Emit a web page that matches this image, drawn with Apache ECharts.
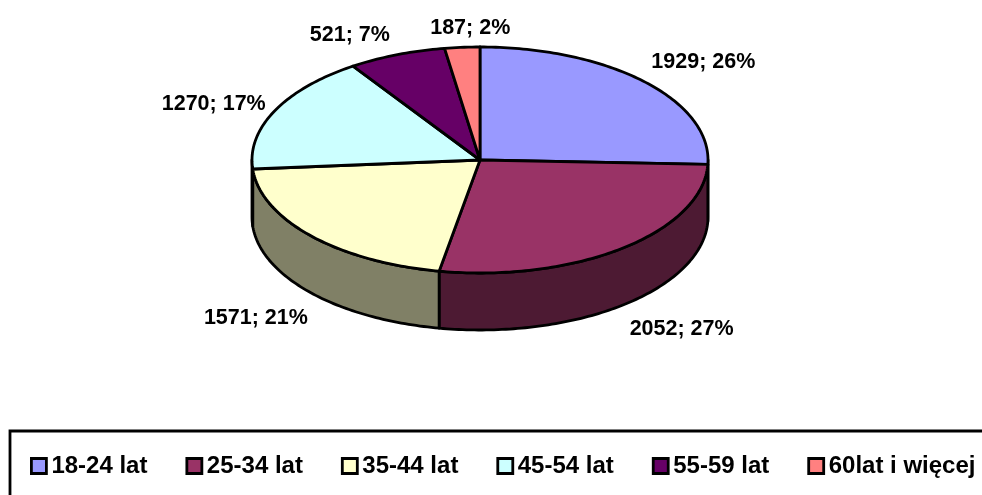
<!doctype html>
<html>

<head>
	<meta charset="UTF-8">
	<title>Wiek</title>
	<style>
		html, body { margin: 0; padding: 0; background: #fff; }
		#chart { width: 982px; height: 495px; }
	</style>
</head>

<body>
	<div id="chart"></div>

	<script src="https://cdn.jsdelivr.net/npm/echarts@6/dist/echarts.min.js"></script>
	<script>
		var categories = ['18-24 lat', '25-34 lat', '35-44 lat', '45-54 lat', '55-59 lat', '60lat i więcej'];
		var values = [1929, 2052, 1571, 1270, 521, 187];
		var percents = [26, 27, 21, 17, 7, 2];
		var topColors = ['#9999FF', '#993366', '#FFFFCC', '#CCFFFF', '#660066', '#FF8080'];
		var sideColors = ['#4D4D80', '#4D1A33', '#808066', '#668080', '#330033', '#804040'];

		// pie geometry (ellipse because of the tilt)
		var cx = 480, cy = 160, rx = 228, ry = 113, depth = 57;
		// label centre, relative to the rim point at the middle of the slice
		var labelOffsets = [[59, -20], [59, 81], [-55, 82], [-61, -7], [-47, -20], [8, -19]];

		var total = values.reduce(function (a, b) { return a + b; }, 0);

		function rim(deg, dy) {
			var a = deg * Math.PI / 180;
			return [cx + rx * Math.sin(a), cy - ry * Math.cos(a) + (dy || 0)];
		}

		function arcPoints(from, to, dy) {
			var pts = [];
			var n = Math.max(2, Math.ceil(Math.abs(to - from)));
			for (var i = 0; i <= n; i++) {
				pts.push(rim(from + (to - from) * i / n, dy));
			}
			return pts;
		}

		function startAngle(idx) {
			var sum = 0;
			for (var i = 0; i < idx; i++) sum += values[i];
			return sum / total * 360;
		}

		function sliceItem(idx) {
			return function () {
				var from = startAngle(idx);
				var to = from + values[idx] / total * 360;
				var mid = (from + to) / 2;
				var lineStyle = { stroke: '#000', lineWidth: 2.8, lineJoin: 'round' };
				var children = [];

				// front wall, only the part between 90 and 270 deg shows
				var wFrom = Math.max(from, 90), wTo = Math.min(to, 270);
				if (wFrom < wTo) {
					var top = arcPoints(wFrom, wTo, 0);
					var bottom = arcPoints(wFrom, wTo, depth).reverse();
					children.push({
						type: 'polygon',
						z2: 1,
						shape: { points: top.concat(bottom) },
						style: Object.assign({ fill: sideColors[idx] }, lineStyle)
					});
				}

				children.push({
					type: 'polygon',
					z2: 2,
					shape: { points: [[cx, cy]].concat(arcPoints(from, to, 0)) },
					style: Object.assign({ fill: topColors[idx] }, lineStyle)
				});

				var p = rim(mid, 0);
				children.push({
					type: 'text',
					z2: 3,
					style: {
						x: p[0] + labelOffsets[idx][0],
						y: p[1] + labelOffsets[idx][1],
						text: values[idx] + '; ' + percents[idx] + '%',
						fill: '#000',
						font: 'bold 21.5px "Liberation Sans", Arial, sans-serif',
						align: 'center',
						verticalAlign: 'middle'
					}
				});
				return { type: 'group', children: children };
			};
		}

		var chart = echarts.init(document.getElementById('chart'), null, { renderer: 'canvas' });

		var series = categories.map(function (name, idx) {
			return {
				type: 'custom',
				name: name,
				coordinateSystem: 'none',
				silent: true,
				animation: false,
				itemStyle: { color: topColors[idx], borderColor: '#000', borderWidth: 2.8 },
				data: [values[idx]],
				renderItem: sliceItem(idx)
			};
		});

		chart.setOption({
			animation: false,
			backgroundColor: '#fff',
			graphic: [{
				type: 'rect',
				z: -1,
				silent: true,
				shape: { x: 10, y: 431, width: 1000, height: 100 },
				style: { fill: '#fff', stroke: '#000', lineWidth: 2.8 }
			}],
			legend: {
				data: categories,
				left: 30,
				top: 454,
				width: 952,
				padding: 0,
				itemGap: 38,
				itemWidth: 15,
				itemHeight: 15,
				icon: 'rect',
				selectedMode: false,
				itemStyle: { borderColor: '#000', borderWidth: 2.8 },
				textStyle: {
					color: '#000',
					fontFamily: '"Liberation Sans", Arial, sans-serif',
					fontWeight: 'bold',
					fontSize: 24,
					padding: [0, 0, 0, 0]
				}
			},
			series: series
		});
	</script>

</body>

</html>
